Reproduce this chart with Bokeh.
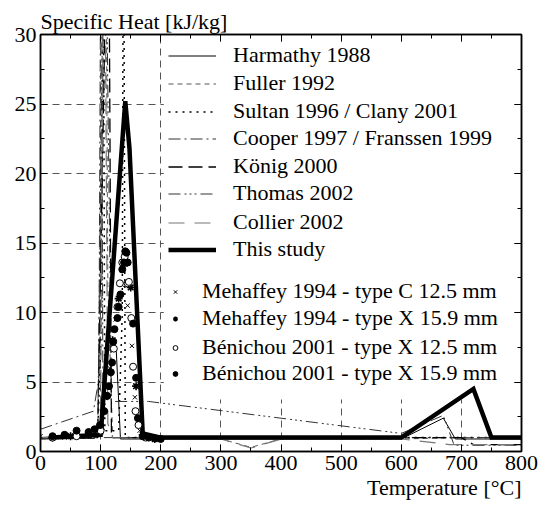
from bokeh.plotting import figure
from bokeh.models import Legend, LegendItem, Title, FixedTicker, LinearAxis, Range1d, BoxAnnotation
from bokeh.embed import file_html
from bokeh.resources import INLINE

FONT = "Liberation Serif"

# ---------------- data (temperature in C, specific heat in kJ/kg) ----------------
x_ticks = [0, 100, 200, 300, 400, 500, 600, 700, 800]
y_ticks = [0, 5, 10, 15, 20, 25, 30]

harmathy_T = [0, 90, 100, 112, 126, 133, 600, 670, 690, 800]
harmathy_c = [0.9, 0.95, 1.6, 7.3, 7.3, 0.9, 0.9, 2.4, 0.9, 0.9]

fuller_T = [0, 95, 100, 108, 112, 120, 300, 350, 400, 600, 700, 800]
fuller_c = [0.9, 1.0, 12.0, 45.0, 12.0, 1.0, 0.9, 0.3, 0.9, 0.9, 1.0, 1.0]

sultan_T = [0, 95, 102, 104, 107, 130, 136, 138, 141, 600, 800]
sultan_c = [0.95, 1.0, 10.0, 45.0, 1.5, 1.5, 10.0, 45.0, 1.0, 1.0, 1.0]

cooper_T = [0, 88, 97, 101, 104, 600, 800]
cooper_c = [1.6, 2.9, 5.2, 45.0, 1.0, 1.0, 1.0]

konig_T = [0, 95, 113, 118, 600, 700, 720, 800]
konig_c = [1.0, 1.1, 45.0, 1.0, 1.0, 1.0, 0.5, 0.5]

thomas_T = [0, 95, 107, 118, 180, 600, 670, 688, 800]
thomas_c = [0.95, 1.0, 45.0, 3.6, 3.6, 1.3, 2.6, 0.45, 0.45]

collier_T = [0, 90, 100, 106, 112, 120, 300, 350, 400, 600, 680, 800]
collier_c = [1.0, 1.2, 3.0, 45.0, 2.0, 1.0, 0.9, 0.25, 0.9, 0.9, 0.5, 0.5]

study_T = [20, 100, 141, 148, 170, 200, 600, 720, 750, 800]
study_c = [1.0, 1.2, 25.2, 21.8, 1.3, 1.0, 1.0, 4.5, 1.0, 1.0]

meh_c_T = [0, 20, 40, 60, 80, 95, 105, 115, 125, 135, 145, 152, 157, 165, 180, 200]
meh_c_c = [1.1, 1.0, 1.0, 1.1, 1.2, 1.5, 3.0, 6.0, 9.5, 12.0, 10.5, 7.6, 3.9, 1.5, 1.0, 0.9]

meh_x_T = [20, 50, 80, 100, 110, 120, 130, 140, 150, 159, 170, 190]
meh_x_c = [1.0, 1.1, 1.2, 1.6, 4.0, 8.0, 11.0, 13.5, 11.8, 4.7, 1.2, 0.9]

ben125_T = [20, 60, 100, 122, 128, 132, 136, 140, 145, 147, 151, 154, 158, 163, 175]
ben125_c = [1.0, 1.1, 1.5, 7.4, 10.4, 12.1, 13.6, 14.0, 12.1, 12.2, 9.6, 6.1, 2.9, 1.9, 1.0]

ben159_T = [20, 40, 60, 80, 90, 99, 106, 111, 114, 117, 119, 121, 123, 128, 130, 133,
            136, 139, 141, 143, 145, 154, 159, 162, 170, 180, 190, 200]
ben159_c = [1.1, 1.2, 1.5, 1.4, 1.6, 1.9, 2.9, 4.0, 4.7, 5.7, 6.4, 7.9, 8.8, 9.6, 10.4, 11.3,
            13.1, 13.6, 14.4, 14.3, 13.6, 9.2, 5.3, 2.4, 1.1, 1.0, 0.95, 0.9]

line_labels = ["Harmathy 1988", "Fuller 1992", "Sultan 1996 / Clany 2001",
               "Cooper 1997 / Franssen 1999", "König 2000", "Thomas 2002",
               "Collier 2002", "This study"]
marker_labels = ["Mehaffey 1994 - type C 12.5 mm", "Mehaffey 1994 - type X 15.9 mm",
                 "Bénichou 2001 - type X 12.5 mm", "Bénichou 2001 - type X 15.9 mm"]

# ---------------- figure ----------------
p = figure(width=540, height=511, x_range=Range1d(0, 800), y_range=Range1d(0, 30),
           output_backend="svg", toolbar_location=None,
           min_border_left=40, min_border_right=19, min_border_top=34, min_border_bottom=60)
p.background_fill_color = "white"
p.border_fill_color = "white"
p.outline_line_color = "black"
p.outline_line_width = 1.5

p.title.text = "Specific Heat [kJ/kg]"
p.title.align = "left"
p.title.text_font = FONT
p.title.text_font_size = "22px"
p.title.text_font_style = "normal"
p.title.text_color = "black"
p.title.standoff = 2

xt = FixedTicker(ticks=x_ticks, minor_ticks=list(range(0, 801, 50)))
yt = FixedTicker(ticks=y_ticks, minor_ticks=[i * 2.5 for i in range(13)])

def style_axis(ax, labels=True):
    ax.major_tick_in = 7
    ax.major_tick_out = 0
    ax.minor_tick_in = 4
    ax.minor_tick_out = 0
    ax.axis_line_width = 1.5
    ax.major_tick_line_width = 1
    ax.minor_tick_line_width = 1
    ax.axis_line_color = "black"
    ax.major_tick_line_color = "black"
    ax.minor_tick_line_color = "black"
    ax.major_label_text_font = FONT
    ax.major_label_text_color = "black"
    ax.major_label_text_font_size = "22px" if labels else "0px"
    ax.major_label_standoff = 4 if labels else 0

p.xaxis.ticker = xt
p.yaxis.ticker = yt
style_axis(p.xaxis[0])
style_axis(p.yaxis[0])
ra = LinearAxis(ticker=yt)
style_axis(ra, labels=False)
p.add_layout(ra, "right")
ta = LinearAxis(ticker=xt)
style_axis(ta, labels=False)
p.add_layout(ta, "above")

p.add_layout(Title(text="Temperature [°C]", align="right", text_font=FONT,
                   text_font_size="22px", text_font_style="normal",
                   text_color="black", standoff=0), "below")

p.xgrid.ticker = xt
p.ygrid.ticker = yt
for g in (p.xgrid, p.ygrid):
    g.grid_line_color = "#555555"
    g.grid_line_dash = "7 5"
    g.grid_line_width = 1

# ---------------- legend background (hides grid behind the legend, under the data) ----------------
p.add_layout(BoxAnnotation(left=205, right=788, bottom=3.75, top=29.5, level="underlay",
                           fill_color="white", fill_alpha=1, line_color=None))

# ---------------- lines ----------------
r_h = p.line(harmathy_T, harmathy_c, line_color="black", line_width=1)
r_f = p.line(fuller_T, fuller_c, line_color="#555555", line_width=1, line_dash="5 4")
r_s = p.line(sultan_T, sultan_c, line_color="black", line_width=1.5, line_dash="2 5")
r_c = p.line(cooper_T, cooper_c, line_color="#333333", line_width=1, line_dash="12 4 2 4")
r_k = p.line(konig_T, konig_c, line_color="black", line_width=1.3, line_dash="14 6")
r_t = p.line(thomas_T, thomas_c, line_color="#333333", line_width=1, line_dash="12 4 2 3 2 3 2 4")
r_co = p.line(collier_T, collier_c, line_color="#777777", line_width=1.2, line_dash="16 10")
r_st = p.line(study_T, study_c, line_color="black", line_width=4.5, line_join="miter")

m1 = p.scatter(meh_c_T, meh_c_c, marker="x", size=6, line_color="black", line_width=1)
m2 = p.scatter(meh_x_T, meh_x_c, marker="asterisk", size=8, line_color="black", line_width=1.6)
m3 = p.scatter(ben125_T, ben125_c, marker="circle", size=7, line_color="black",
               fill_color="white", line_width=1)
m4 = p.scatter(ben159_T, ben159_c, marker="circle", size=7, line_color="black",
               fill_color="black", line_width=1)

# ---------------- legends (one per entry for exact spacing) ----------------
FRAME_BOTTOM = 451
H = 27
line_rows = [55, 83, 111, 138, 166, 193, 222, 249]
marker_rows = [291, 318, 347, 373]

def add_entry(label, renderer, x, row, gw, standoff):
    lg = Legend(items=[LegendItem(label=label, renderers=[renderer])],
                location=(x, FRAME_BOTTOM - row - H / 2))
    lg.padding = 0
    lg.margin = 0
    lg.spacing = 0
    lg.border_line_color = None
    lg.background_fill_alpha = 0
    lg.label_text_font = FONT
    lg.label_text_font_size = "22px"
    lg.label_text_color = "black"
    lg.glyph_width = gw
    lg.glyph_height = H
    lg.label_height = H
    lg.label_standoff = standoff
    p.add_layout(lg, "center")

for lab, r, row in zip(line_labels, [r_h, r_f, r_s, r_c, r_k, r_t, r_co, r_st], line_rows):
    add_entry(lab, r, 128, row, 48, 17)
for lab, r, row in zip(marker_labels, [m1, m2, m3, m4], marker_rows):
    add_entry(lab, r, 129, row, 12, 21)

open("out.html", "w").write(file_html(p, INLINE))
